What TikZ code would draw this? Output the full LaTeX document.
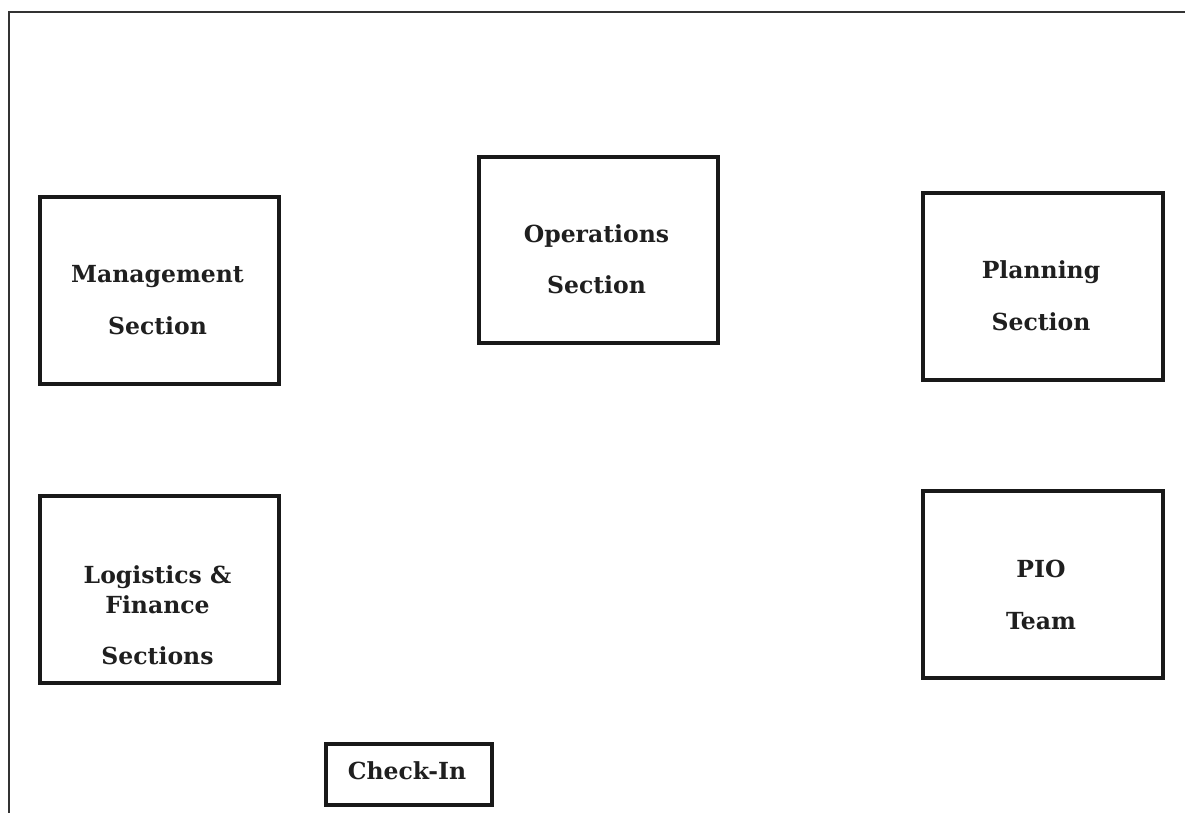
\documentclass[tikz,border=0pt]{standalone}
\usepackage{fontspec}
\setmainfont{DejaVu Serif}
\begin{document}
\begin{tikzpicture}[x=1pt,y=-1pt,
  sect/.style={draw=black!90,line width=3.5pt,inner sep=0pt,anchor=north west},
  lbl/.style={font=\bfseries\fontsize{23.5}{28}\selectfont,text=black!88,inner sep=0pt,anchor=base},
  frame/.style={draw=black!80,line width=2.5pt}]
\useasboundingbox (0,0) rectangle (1185,812);
\coordinate (fTL) at (9,12);
\coordinate (fTR) at (1190,12);
\coordinate (fBL) at (9,820);
\draw[frame] (fBL) -- (fTL) -- (fTR);
% boxes
\node[sect,minimum width=239pt,minimum height=187pt] (mgmt) at (38,195) {};
\node[sect,minimum width=239pt,minimum height=186pt] (ops) at (477,155) {};
\node[sect,minimum width=240pt,minimum height=187pt] (plan) at (921,191) {};
\node[sect,minimum width=239pt,minimum height=187pt] (log) at (38,494) {};
\node[sect,minimum width=240pt,minimum height=187pt] (pio) at (921,489) {};
\node[sect,minimum width=166pt,minimum height=61pt] (check) at (324,742) {};
% labels (baselines)
\node[lbl] (mgmt1) at (157.5,282) {Management};
\node[lbl] (mgmt2) at (157.5,334) {Section};
\node[lbl] (ops1) at (596.5,242) {Operations};
\node[lbl] (ops2) at (596.5,293) {Section};
\node[lbl] (plan1) at (1041,278) {Planning};
\node[lbl] (plan2) at (1041,330) {Section};
\node[lbl] (log1) at (157.5,583) {Logistics \&};
\node[lbl] (log2) at (157.5,613) {Finance};
\node[lbl] (log3) at (157.5,664) {Sections};
\node[lbl] (pio1) at (1041,577) {PIO};
\node[lbl] (pio2) at (1041,629) {Team};
\node[lbl] (check1) at (407,779) {Check-In};
\end{tikzpicture}
\end{document}
